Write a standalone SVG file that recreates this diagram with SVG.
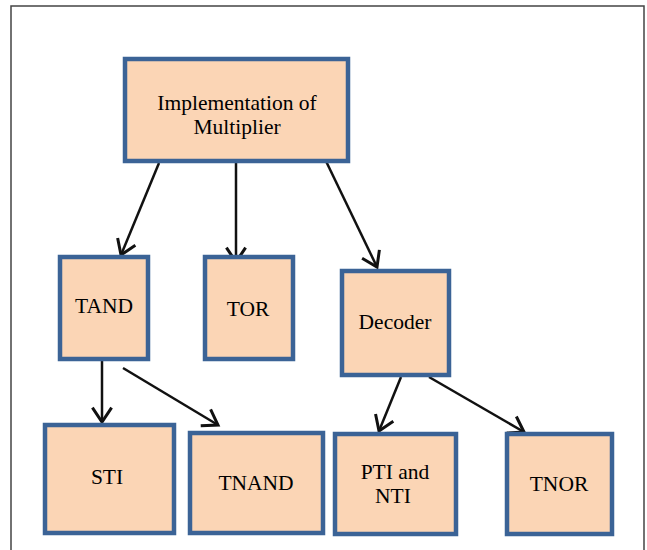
<svg xmlns="http://www.w3.org/2000/svg" width="647" height="550" viewBox="0 0 647 550">
<style>
.box{fill:#FBD5B5;stroke:#3B6396;stroke-width:4.5}
.t{font-family:"Liberation Serif","Times New Roman",serif;font-size:21.5px;fill:#000;text-anchor:middle}
.c{stroke:#111;stroke-width:2.5;fill:none;marker-end:url(#ah)}
</style>
<defs>
<marker id="ah" markerUnits="userSpaceOnUse" markerWidth="24" markerHeight="24" viewBox="-14 -10 16 20" refX="0" refY="0" orient="auto">
<path d="M-12,-8 L0,0 L-12,8" fill="none" stroke="#111" stroke-width="2.5"/>
</marker>
</defs>
<rect x="0" y="0" width="647" height="550" fill="#fff"/>
<path d="M11,550 L11,6 L644,6 L644,550" fill="none" stroke="#444" stroke-width="1.5"/>
<g id="connectors">
<line class="c" x1="159" y1="163" x2="121" y2="255"/>
<line class="c" x1="236" y1="162" x2="236" y2="262"/>
<line class="c" x1="324" y1="157" x2="377" y2="267"/>
<line class="c" x1="102" y1="361" x2="102" y2="422"/>
<line class="c" x1="123" y1="368" x2="218" y2="425"/>
<line class="c" x1="401" y1="377" x2="379" y2="431"/>
<line class="c" x1="429" y1="377" x2="524" y2="432"/>
</g>
<g id="n_top"><rect class="box" x="125" y="59" width="223" height="102"/><text class="t" x="237" y="110">Implementation of</text><text class="t" x="237" y="134">Multiplier</text></g>
<g id="n_tand"><rect class="box" x="60" y="257" width="88" height="102"/><text class="t" x="104" y="313">TAND</text></g>
<g id="n_tor"><rect class="box" x="205" y="257" width="88" height="102"/><text class="t" x="248" y="316">TOR</text></g>
<g id="n_decoder"><rect class="box" x="342" y="271" width="107" height="104"/><text class="t" x="395" y="329">Decoder</text></g>
<g id="n_sti"><rect class="box" x="45" y="425" width="129" height="108"/><text class="t" x="107" y="484">STI</text></g>
<g id="n_tnand"><rect class="box" x="190" y="433" width="133" height="100"/><text class="t" x="256" y="490">TNAND</text></g>
<g id="n_pti"><rect class="box" x="335" y="434" width="121" height="100"/><text class="t" x="395" y="479">PTI and</text><text class="t" x="393" y="503">NTI</text></g>
<g id="n_tnor"><rect class="box" x="507" y="434" width="105" height="100"/><text class="t" x="559" y="491">TNOR</text></g>
</svg>
